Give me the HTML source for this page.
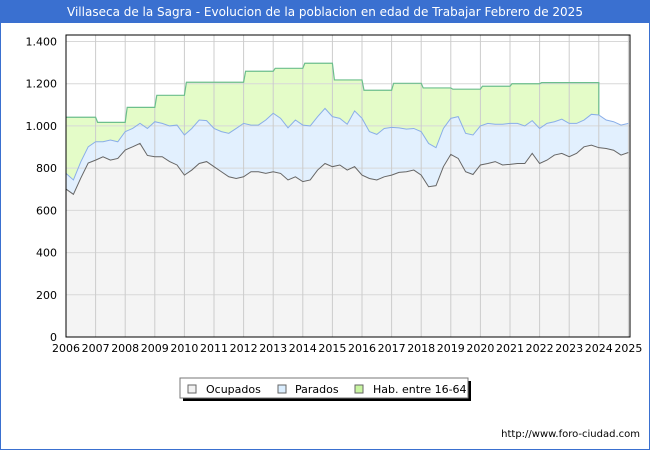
<!DOCTYPE html>
<html><head><meta charset="utf-8"><style>
body{margin:0;width:650px;height:450px;overflow:hidden;background:#fff;font-family:"DejaVu Sans","Liberation Sans",sans-serif}
</style></head><body>
<svg width="650" height="450" xmlns="http://www.w3.org/2000/svg">
<rect x="0" y="0" width="650" height="450" fill="#fff" stroke="#3a70d0" stroke-width="2"/>
<rect x="0" y="0" width="650" height="23" fill="#3a70d0"/>
<text x="325" y="16" text-anchor="middle" fill="#fff" font-size="12" font-family="DejaVu Sans, Liberation Sans, sans-serif">Villaseca de la Sagra - Evolucion de la poblacion en edad de Trabajar Febrero de 2025</text>
<g id="plot"></g>
<g>
<rect x="183" y="381" width="288" height="20" fill="#000"/>
<rect x="180" y="378" width="288" height="20" fill="#fff" stroke="#777" stroke-width="1"/>
<rect x="188" y="385" width="8" height="8" fill="#f2f2f2" stroke="#666"/>
<text x="206" y="393" font-size="11" fill="#000">Ocupados</text>
<rect x="278" y="385" width="8" height="8" fill="#dbeeff" stroke="#666"/>
<text x="295" y="393" font-size="11" fill="#000">Parados</text>
<rect x="355" y="385" width="8" height="8" fill="#c8f5a0" stroke="#666"/>
<text x="373" y="393" font-size="11" fill="#000">Hab. entre 16-64</text>
</g>
<text x="640" y="437" text-anchor="end" font-size="10" fill="#000">http://www.foro-ciudad.com</text>
</svg>
<script>
const years=[2006,2007,2008,2009,2010,2011,2012,2013,2014,2015,2016,2017,2018,2019,2020,2021,2022,2023];
const hab=[1041,1017,1088,1145,1207,1207,1259,1273,1297,1218,1169,1202,1180,1174,1188,1200,1205,1205];
const ocupados=[701,676,753,824,838,854,838,846,886,901,917,860,854,854,831,815,767,791,822,831,807,783,759,751,759,783,783,775,783,775,744,759,736,744,791,822,807,815,791,807,767,751,744,759,767,780,783,791,767,712,717,807,865,846,783,770,815,822,831,815,818,822,822,870,822,838,862,870,854,870,901,909,897,893,885,862,874];
const activos=[775,744,830,901,925,925,933,925,973,988,1012,988,1020,1012,1000,1004,957,988,1028,1025,988,973,965,988,1012,1004,1004,1028,1060,1036,991,1028,1004,1000,1044,1083,1044,1036,1008,1071,1036,973,960,988,993,991,985,988,973,917,897,988,1036,1044,965,957,1000,1012,1008,1008,1012,1012,1000,1025,988,1012,1020,1032,1012,1012,1028,1055,1052,1028,1020,1004,1012];
const yTicks=[0,200,400,600,800,1000,1200,1400];
const xTicks=[2006,2007,2008,2009,2010,2011,2012,2013,2014,2015,2016,2017,2018,2019,2020,2021,2022,2023,2024,2025];
const L=66,R=630,T=35,B=337;
const X=t=>66+(t-2006)*29.6;
const Y=v=>337-v*(295.5/1400);
const NS="http://www.w3.org/2000/svg";
const g=document.getElementById('plot');
function mk(tag,attrs,parent){const e=document.createElementNS(NS,tag);for(const k in attrs)e.setAttribute(k,attrs[k]);(parent||g).appendChild(e);return e;}
const tt=i=>2006+i*0.25;
const bg=mk('rect',{x:L,y:T,width:R-L,height:B-T,fill:'#fff'});


let habPts=[];
years.forEach((y,i)=>{habPts.push([X(y)+(i?2:0),Y(hab[i])]);habPts.push([X(y+1),Y(hab[i])]);});
const endIdx=72;
let actPts=activos.map((v,i)=>[X(tt(i)),Y(v)]);
let habPoly=habPts.concat([[X(2024),Y(activos[endIdx])]]);
for(let i=endIdx;i>=0;i--)habPoly.push(actPts[i]);
const hp=mk('polygon',{points:habPoly.map(p=>p.join(',')).join(' '),fill:'#e4fcc8'});


const ap=mk('polygon',{points:actPts.map(p=>p.join(',')).join(' ')+' '+X(tt(activos.length-1))+','+B+' '+L+','+B,fill:'#e2f0fe'});


const ocPts=ocupados.map((v,i)=>[X(tt(i)),Y(v)]);
const op=mk('polygon',{points:ocPts.map(p=>p.join(',')).join(' ')+' '+X(tt(ocupados.length-1))+','+B+' '+L+','+B,fill:'#f4f4f4'});


yTicks.forEach(v=>{const l=mk('line',{x1:L,x2:R,y1:Y(v),y2:Y(v),stroke:'#d8d8d8','stroke-width':1});


const t=mk('text',{x:L-9,y:Y(v)+4,'text-anchor':'end','font-size':11,fill:'#000'});t.textContent=v.toLocaleString('de-DE');

});
xTicks.forEach(v=>{const l=mk('line',{x1:X(v),x2:X(v),y1:T,y2:B,stroke:'#cccccc','stroke-width':1});


const t=mk('text',{x:X(v),y:B+15,'text-anchor':'middle','font-size':11,fill:'#000'});t.textContent=v;

});
const hl=mk('polyline',{points:habPts.concat([[X(2024),Y(activos[endIdx])]]).map(p=>p.join(',')).join(' '),fill:'none',stroke:'#6cbf8c','stroke-width':1.2});


const al=mk('polyline',{points:actPts.map(p=>p.join(',')).join(' '),fill:'none',stroke:'#8aaee8','stroke-width':1});


const ol=mk('polyline',{points:ocPts.map(p=>p.join(',')).join(' '),fill:'none',stroke:'#666','stroke-width':1});


const fr=mk('rect',{x:L,y:T,width:R-L,height:B-T,fill:'none',stroke:'#000','stroke-width':1});


</script>
</body></html>
